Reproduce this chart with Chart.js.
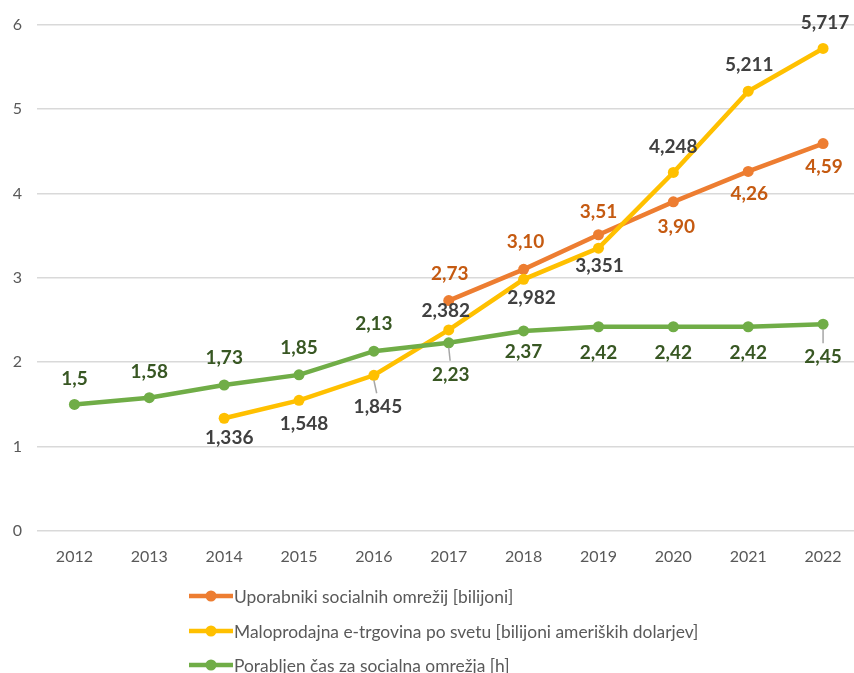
<!DOCTYPE html>
<html>
<head>
<meta charset="utf-8">
<script src="https://cdn.jsdelivr.net/npm/chart.js@4.4.1/dist/chart.umd.min.js"></script>
<style>
  html, body { margin: 0; padding: 0; background: #ffffff; overflow: hidden; }
  #wrap { position: relative; width: 866px; height: 673px; }
</style>
</head>
<body>
<div id="wrap"><canvas id="chart" width="866" height="673"></canvas></div>
<script>
// Categories and series values
const years = ['2012', '2013', '2014', '2015', '2016', '2017', '2018', '2019', '2020', '2021', '2022'];
const socialUsers = [null, null, null, null, null, 2.73, 3.10, 3.51, 3.90, 4.26, 4.59];
const retailEcommerce = [null, null, 1.336, 1.548, 1.845, 2.382, 2.982, 3.351, 4.248, 5.211, 5.717];
const socialTime = [1.5, 1.58, 1.73, 1.85, 2.13, 2.23, 2.37, 2.42, 2.42, 2.42, 2.45];
const seriesNames = [
  'Uporabniki socialnih omrežij [bilijoni]',
  'Maloprodajna e-trgovina po svetu [bilijoni ameriških dolarjev]',
  'Porabljen čas za socialna omrežja [h]'
];
const seriesDecimals = [2, 3, null];

// Label placement per point: [dx, dy, leader]
const labelPlacement = [
  [null, null, null, null, null, [1, -27], [2, -27], [0, -23], [3, 25], [1, 22], [1, 23]],
  [null, null, [5, 20], [5, 24], [4, 32, true], [-3, -19], [8, 19], [1, 18], [0, -26], [1, -26], [2, -26]],
  [[0, -26], [0, -26], [0, -27], [0, -27], [0, -27], [2, 32, true], [0, 21], [0, 26], [0, 26], [0, 26], [0, 33, true]]
];
const labelColors = ['#C55A11', '#404040', '#385723'];

const ORANGE = '#ED7D31', YELLOW = '#FFC000', GREEN = '#70AD47';

function fmt(v, dec) {
  const s = dec === null ? String(v) : v.toFixed(dec);
  return s.replace('.', ',');
}

const valueLabels = {
  id: 'valueLabels',
  afterDatasetsDraw(chart) {
    const ctx = chart.ctx;
    ctx.save();
    ctx.font = 'bold 19px Lato, "Liberation Sans", sans-serif';
    ctx.textAlign = 'center';
    ctx.textBaseline = 'middle';
    chart.data.datasets.forEach((ds, di) => {
      const meta = chart.getDatasetMeta(di);
      meta.data.forEach((pt, i) => {
        const v = ds.data[i];
        if (v === null || v === undefined) return;
        const pl = labelPlacement[di][i];
        const lx = pt.x + pl[0], ly = pt.y + pl[1];
        if (pl[2]) {
          ctx.strokeStyle = '#A6A6A6';
          ctx.lineWidth = 1.5;
          ctx.beginPath();
          ctx.moveTo(pt.x, pt.y + 5);
          ctx.lineTo(pt.x + pl[0] * 0.7, ly - 14);
          ctx.stroke();
        }
        ctx.fillStyle = labelColors[di];
        ctx.fillText(fmt(v, seriesDecimals[di]), lx, ly);
      });
    });
    ctx.restore();
  }
};

const bottomLegend = {
  id: 'bottomLegend',
  afterDraw(chart) {
    const ctx = chart.ctx;
    ctx.save();
    const rows = [596, 631, 665];
    ctx.font = '17.4px Lato, "Liberation Sans", sans-serif';
    ctx.textBaseline = 'middle';
    ctx.textAlign = 'left';
    chart.data.datasets.forEach((ds, di) => {
      const y = rows[di];
      ctx.strokeStyle = ds.borderColor;
      ctx.lineWidth = 4.5;
      ctx.lineCap = 'butt';
      ctx.beginPath();
      ctx.moveTo(189, y);
      ctx.lineTo(233, y);
      ctx.stroke();
      ctx.fillStyle = ds.borderColor;
      ctx.beginPath();
      ctx.arc(211, y, 5.5, 0, Math.PI * 2);
      ctx.fill();
      ctx.fillStyle = '#595959';
      ctx.fillText(ds.label, 234, y + 1);
    });
    ctx.restore();
  }
};

function lineSet(label, data, color, order) {
  return {
    label, data, order,
    borderColor: color,
    backgroundColor: color,
    borderWidth: 4.5,
    pointRadius: 5.5,
    pointBorderWidth: 0,
    pointBackgroundColor: color,
    tension: 0,
    fill: false,
    spanGaps: false
  };
}

new Chart(document.getElementById('chart'), {
  type: 'line',
  data: {
    labels: years,
    datasets: [
      lineSet(seriesNames[0], socialUsers, ORANGE, 3),
      lineSet(seriesNames[1], retailEcommerce, YELLOW, 2),
      lineSet(seriesNames[2], socialTime, GREEN, 1)
    ]
  },
  options: {
    responsive: false,
    animation: false,
    // the plot area runs slightly past the right edge of the visible page
    layout: { padding: { top: 24, right: 0, bottom: 102, left: 0 } },
    plugins: {
      legend: { display: false },
      tooltip: { enabled: false }
    },
    scales: {
      x: {
        offset: true,
        grid: { display: false, drawTicks: false },
        border: { display: false },
        ticks: {
          color: '#595959',
          font: { family: 'Lato, "Liberation Sans", sans-serif', size: 16 },
          padding: 16,
          maxRotation: 0
        },
        afterFit(scale) { scale.height = 40; }
      },
      y: {
        min: 0,
        max: 6,
        grid: { color: '#D9D9D9', lineWidth: 1.5, drawTicks: false },
        border: { display: false },
        ticks: {
          stepSize: 1,
          color: '#595959',
          font: { family: 'Lato, "Liberation Sans", sans-serif', size: 16 },
          padding: 15
        },
        afterFit(scale) { scale.width = 37; }
      }
    }
  },
  plugins: [valueLabels, bottomLegend]
});
</script>
</body>
</html>
